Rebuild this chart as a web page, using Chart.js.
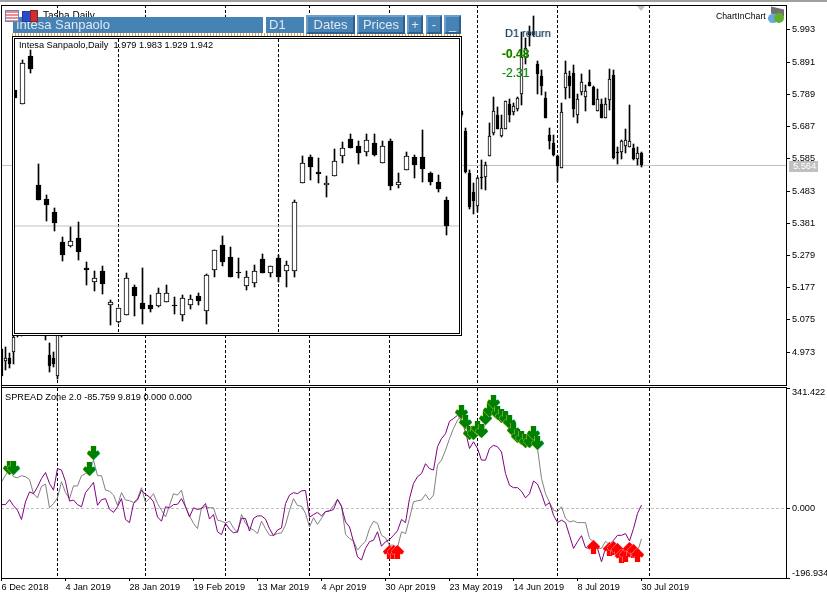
<!DOCTYPE html>
<html><head><meta charset="utf-8">
<script src="https://cdn.jsdelivr.net/npm/chart.js@4"></script>
<style>
html,body{margin:0;padding:0;background:#fff;width:827px;height:596px;overflow:hidden}
canvas{position:absolute;display:block}
.t{position:absolute;font:9.2px/12px "Liberation Sans",Arial,sans-serif;color:#000;white-space:pre}
.l{position:absolute;background:#000}
.bar{position:absolute;background:#4682B4;color:#dfe8f2;font:13px/16px "Liberation Sans",Arial,sans-serif;box-sizing:border-box;white-space:pre}
.btn{position:absolute;top:15px;height:19px;box-sizing:border-box;background:#4682B4;border:2px solid;border-color:#6c9fcc #2f5f8a #2f5f8a #6c9fcc;color:#dfe8f2;font:13px/15px "Liberation Sans",Arial,sans-serif;text-align:center}
</style></head><body>
<canvas id="main" width="827" height="386" style="left:0;top:0;width:827px;height:386px"></canvas>
<canvas id="spread" width="827" height="210" style="left:0;top:386px;width:827px;height:210px"></canvas>

<div class="l" style="left:0;top:0;width:827px;height:2px;background:#a0a0a0"></div>
<div class="l" style="left:0;top:2px;width:827px;height:3px;background:#fff"></div>
<div class="l" style="left:1px;top:5px;width:786px;height:1px"></div>
<div class="l" style="left:1px;top:5px;width:1px;height:573px"></div>
<div class="l" style="left:1px;top:385px;width:786px;height:1px"></div>
<div class="l" style="left:1px;top:387px;width:786px;height:1px"></div>
<div style="position:absolute;left:637px;top:6px;width:0;height:0;border-left:4px solid transparent;border-right:4px solid transparent;border-top:5px solid #c0c0c0"></div>

<div class="t" style="left:43px;top:10px;height:7px;overflow:hidden;font-size:10px">Tasha Daily</div>

<div style="position:absolute;left:12px;top:33px;width:449px;height:3px;background:repeating-linear-gradient(90deg,#e0a050 0 1px,#fff 1px 3px)"></div>
<div class="bar" style="left:13px;top:17px;width:250px;height:16px;padding-left:3px">Intesa Sanpaolo</div>
<div class="bar" style="left:266px;top:17px;width:38px;height:16px;padding-left:3px">D1</div>
<div class="btn" style="left:306px;width:49px">Dates</div>
<div class="btn" style="left:357px;width:48px">Prices</div>
<div class="btn" style="left:407px;width:16px">+</div>
<div class="btn" style="left:426px;width:16px">-</div>
<div class="btn" style="left:444px;width:17px">_</div>

<div style="position:absolute;left:5px;top:10px;width:12px;height:10px;background:repeating-linear-gradient(#e89090 0 2px,#fff 2px 3px);border:1px solid #7080c0"></div>
<div style="position:absolute;left:22px;top:11px;width:7px;height:9px;background:#2a4bd0;border:1px solid #223a90"></div>
<div style="position:absolute;left:30px;top:10px;width:6px;height:10px;background:#cc3030;border:1px solid #902020"></div>

<div style="position:absolute;left:12px;top:36px;width:448px;height:298px;border:1px solid #000;background:#fff"></div>
<div style="position:absolute;left:14px;top:38px;width:444px;height:294px;border:1px solid #000;background:#fff"></div>
<canvas id="inner" width="444" height="293" style="left:15px;top:39px;width:444px;height:293px"></canvas>
<div class="t" style="left:19px;top:39px">Intesa Sanpaolo,Daily  1.979 1.983 1.929 1.942</div>

<div class="t" style="left:505px;top:27px;font-size:11px;color:#14305c;text-shadow:-1px 0 0 rgba(240,170,80,.35),1px 0 0 rgba(80,190,240,.45)">D1 return</div>
<div class="t" style="left:502px;top:48px;font-size:12px;font-weight:bold;color:#008000;text-shadow:-1px 0 0 rgba(220,190,40,.5)">-0.48</div>
<div class="t" style="left:502px;top:67px;font-size:12px;color:#008000;text-shadow:-1px 0 0 rgba(220,190,40,.3),1px 0 0 rgba(60,220,220,.3)">-2.31</div>
<div class="t" style="left:716px;top:10px;font-size:8.7px">ChartInChart</div>
<div style="position:absolute;left:771px;top:8px;width:13px;height:7px;background:#707070;transform:skewY(12deg)"></div>
<div style="position:absolute;left:768px;top:14px;width:10px;height:9px;background:#6aa6e0;border-radius:5px"></div>
<div style="position:absolute;left:774px;top:13px;width:10px;height:10px;background:#60b030;border-radius:5px"></div>

<div style="position:absolute;left:789px;top:161px;width:29px;height:11px;background:#c0c0c0"></div>
<div class="t" style="left:793px;top:160px;color:#fff">5.564</div>
<div class="t" style="left:5px;top:391px">SPREAD Zone 2.0 -85.759 9.819 0.000 0.000</div>

<script>
// ---------- price pane ----------
const mainIndex = [0,1,2,3,4,5,11,12,13,14,15,
 115,116,117,118,119,120,121,122,123,124,125,126,127,128,129,130,131,132,133,134,135,136,137,
 138,139,140,141,142,143,144,145,146,147,148,149,150,151,152,153,154,155,156,157,158,159,160];
const mainOpen = [4.982,4.944,4.953,4.972,5.061,5.061,5.061,4.963,4.956,4.899,5.061,
 5.735,5.672,5.539,5.479,5.437,5.529,5.529,5.593,5.668,5.725,5.656,5.678,5.760,5.732,5.744,5.789,5.906,5.988,5.988,5.884,5.846,5.779,5.662,
 5.634,5.593,5.555,5.808,5.846,5.858,5.725,5.795,5.782,5.827,5.811,5.738,5.760,5.713,5.770,5.849,5.608,5.608,5.627,5.621,5.618,5.583,5.605];
const mainHigh = [4.982,4.988,4.969,5.029,5.077,5.077,5.077,5.001,4.972,5.061,5.077,
 5.735,5.684,5.551,5.507,5.529,5.580,5.574,5.697,5.782,5.748,5.725,5.767,5.773,5.763,5.782,5.985,5.966,6.007,6.036,5.896,5.865,5.795,5.684,
 5.659,5.596,5.763,5.896,5.862,5.881,5.789,5.855,5.820,5.865,5.814,5.805,5.773,5.779,5.868,5.865,5.624,5.646,5.678,5.757,5.631,5.624,5.608];
const mainLow = [4.896,4.915,4.922,4.934,5.020,5.023,5.010,4.909,4.925,4.887,5.020,
 5.719,5.539,5.425,5.409,5.418,5.488,5.485,5.593,5.662,5.678,5.653,5.678,5.703,5.725,5.735,5.754,5.884,5.941,5.973,5.789,5.786,5.713,5.615,
 5.593,5.513,5.555,5.773,5.779,5.719,5.700,5.786,5.735,5.817,5.757,5.735,5.713,5.713,5.741,5.586,5.570,5.583,5.605,5.621,5.580,5.567,5.558];
const mainClose = [4.896,4.956,4.934,5.020,5.045,5.045,5.045,4.928,4.934,5.045,5.045,
 5.725,5.542,5.434,5.450,5.523,5.523,5.567,5.656,5.735,5.681,5.684,5.767,5.725,5.751,5.779,5.906,5.937,5.976,5.976,5.855,5.814,5.713,5.643,
 5.596,5.561,5.732,5.858,5.814,5.744,5.773,5.827,5.801,5.817,5.757,5.773,5.713,5.760,5.839,5.589,5.602,5.640,5.646,5.643,5.583,5.605,5.564];
const priceTicks = [5.993,5.891,5.789,5.687,5.585,5.483,5.381,5.279,5.177,5.075,4.973];
const bidPrice = 5.564;
const periodSeparators = [14,36,56,77,97,119,139,162];

// ---------- chart-in-chart ----------
const innerOpen = [2.135,2.115,2.184,2.000,1.980,1.962,1.919,1.914,1.925,1.882,1.862,1.878,1.830,1.805,1.815,1.855,1.832,1.830,1.828,1.834,1.830,1.815,1.830,1.842,1.821,1.879,1.915,1.898,1.877,1.857,1.861,1.895,1.875,1.896,1.878,1.878,2.003,2.040,2.019,2.000,2.013,2.042,2.066,2.056,2.047,2.060,2.032,2.063,2.000,2.022,2.040,2.040,2.017,2.005,1.979];
const innerHigh = [2.135,2.178,2.192,2.030,1.986,1.968,1.926,1.941,1.948,1.891,1.878,1.885,1.837,1.825,1.875,1.858,1.882,1.844,1.854,1.858,1.841,1.844,1.844,1.847,1.874,1.908,1.928,1.912,1.896,1.878,1.887,1.902,1.885,1.901,1.892,1.979,2.042,2.043,2.039,2.013,2.051,2.061,2.073,2.063,2.073,2.073,2.063,2.066,2.017,2.047,2.043,2.079,2.019,2.015,1.983];
const innerLow = [2.124,2.115,2.160,1.979,1.949,1.935,1.892,1.912,1.894,1.858,1.850,1.845,1.801,1.804,1.815,1.814,1.803,1.820,1.827,1.834,1.817,1.807,1.824,1.830,1.803,1.869,1.885,1.869,1.868,1.851,1.855,1.875,1.869,1.862,1.855,1.869,2.003,2.007,2.003,1.983,2.013,2.032,2.053,2.030,2.042,2.042,2.032,1.993,1.996,2.022,2.010,2.005,2.000,1.990,1.929];
const innerClose = [2.124,2.174,2.165,1.979,1.972,1.946,1.901,1.921,1.905,1.879,1.868,1.860,1.834,1.825,1.868,1.842,1.824,1.824,1.847,1.847,1.828,1.840,1.838,1.835,1.872,1.908,1.891,1.869,1.875,1.869,1.878,1.875,1.885,1.869,1.887,1.976,2.032,2.026,2.016,2.003,2.034,2.053,2.053,2.046,2.064,2.043,2.056,1.999,2.005,2.042,2.029,2.023,2.005,1.995,1.942];
const innerLast = 1.942;
const innerSeparators = [13,33];

// ---------- SPREAD Zone pane ----------
const spreadPurple = [11,11,25,8,-5,-31,19,47,42,61,85,102,71,52,113,109,76,21,24,11,5,45,59,74,9,25,28,-2,-11,5,28,-31,-40,14,24,52,40,33,19,-24,-36,5,2,11,12,28,5,-24,2,-3,0,14,-30,-17,-66,-74,-42,-59,-69,-66,-28,-28,-64,-28,-21,-21,-30,-57,-77,-61,-55,14,38,45,42,50,51,-25,-17,-11,
 -21,-9,-7,-3,26,5,-38,-52,-94,-137,-146,-113,-94,-90,-66,-107,-94,-88,-76,-63,-31,-40,28,71,90,99,127,113,109,175,198,212,247,255,264,250,217,170,189,170,137,137,170,179,175,160,99,66,59,59,49,30,42,78,69,42,8,17,-19,-40,-33,-40,-76,-113,-94,-77,-111,-113,-104,-113,-151,-113,-102,-90,-76,-76,-71,-92,-57,-14,9.819];
const spreadGray = [76,94,113,90,87,93,90,82,42,30,63,69,2,14,30,76,45,28,64,64,93,99,102,137,93,93,52,49,38,9,45,24,22,17,28,59,17,28,42,14,-5,-24,9,42,38,52,5,-21,-42,-57,2,5,2,2,-33,-36,-41,-36,-55,-68,-17,-42,-55,-61,-71,-36,-57,-76,-76,-71,-69,-47,-5,28,8,7,-14,-52,-26,-45,
 -28,-9,-6,8,26,8,-73,-85,-92,-118,-104,-93,-57,-36,-42,-76,-83,-104,-104,-110,-66,-71,-28,19,22,24,40,24,38,123,137,165,198,227,250,264,236,203,203,208,203,241,255,274,260,250,241,231,217,203,189,184,194,189,170,85,42,17,-5,-9,5,-28,-38,-35,-40,-40,-40,-85,-94,-113,-113,-93,-104,-94,-113,-132,-123,-113,-127,-123,-85.759];
const sellIndex = [2,3,22,23,115,116,117,118,119,120,121,122,123,124,125,126,127,128,129,130,131,132,133,134];
const sellLevel = [113,113,110,155,272,245,212,212,227,217,255,278,300,269,262,255,244,222,203,198,191,191,212,184];
const buyIndex = [97,98,99,148,152,153,154,155,156,157,158,159];
const buyLevel = [-126,-126,-126,-111,-116,-113,-118,-137,-132,-115,-123,-134];
const spreadTicks = [341.422,0,-196.934];
const dateTickIndex = [0,16,32,48,64,80,96,112,128,144,160];
const dateTickLabels = ['6 Dec 2018','4 Jan 2019','28 Jan 2019','19 Feb 2019','13 Mar 2019','4 Apr 2019','30 Apr 2019','23 May 2019','14 Jun 2019','8 Jul 2019','30 Jul 2019'];

// ---------- look ----------
const FONT = {family:'"Liberation Sans",Arial,sans-serif',size:9.2};
const X_MIN=-0.125, X_MAX=196.125;

function candleSets(idx,o,h,l,c,bodyW){
  const wicks = idx.map((x,i)=>({x,y:[l[i],h[i]]}));
  const bodies = idx.map((x,i)=>({x,y:[o[i],c[i]],up:c[i]>=o[i]}));
  return [
   {type:'bar',data:bodies,grouped:false,barThickness:bodyW,order:2,borderWidth:1,borderSkipped:false,borderColor:'#000',
    backgroundColor:ctx=>ctx.raw&&ctx.raw.up?'#fff':'#000'},
   {type:'bar',data:wicks,grouped:false,barThickness:1,order:3,borderWidth:0,backgroundColor:'#000'}
  ];
}
function sprite(color,left,right,flip){
  const c=document.createElement('canvas');c.width=13;c.height=15;
  const g=c.getContext('2d');
  const P=[[4,0],[9,0],[9,5.5],[11,4.5],[13,7.5],[6.5,14],[0,7.5],[2,4.5],[4,5.5]];
  const path=dx=>{g.beginPath();P.forEach((p,i)=>{const y=flip?14-p[1]:p[1];i?g.lineTo(p[0]+dx,y):g.moveTo(p[0]+dx,y)});g.closePath();g.fill()};
  g.fillStyle=left;path(-0.5);g.fillStyle=right;path(0.5);g.fillStyle=color;path(0);
  return c;
}
const snap={id:'snap',afterDatasetsUpdate(chart){
  chart.getSortedVisibleDatasetMetas().forEach(m=>{
    m.data.forEach(el=>{
      if(m.type==='bar'){
        el.x=Math.floor(el.x)+0.5;
        const a=Math.round(Math.min(el.y,el.base)),b=Math.round(Math.max(el.y,el.base));
        el.y=a;el.base=Math.max(b,a+1);
      }else if(m.type==='scatter'){
        el.x=Math.floor(el.x)+0.5;el.y=Math.floor(el.y)+0.5;
      }
    });
  });
}};
const noPad=s=>{s.paddingLeft=s.paddingRight=s.paddingTop=s.paddingBottom=0};
const zero=s=>{s.height=0;noPad(s)};
const sepAxis=(list,min,max)=>({type:'linear',min,max,position:'bottom',offset:false,
  afterBuildTicks:s=>{s.ticks=list.map(value=>({value}))},
  afterFit:zero,
  ticks:{display:false,autoSkip:false},
  grid:{color:'#000',lineWidth:1,drawTicks:false,tickLength:0},
  border:{display:false,dash:[3,2]}});
const base={responsive:false,animation:false,events:[],plugins:{legend:{display:false},tooltip:{enabled:false}}};

// main price chart
new Chart(document.getElementById('main'),{
 data:{datasets:[
  ...candleSets(mainIndex,mainOpen,mainHigh,mainLow,mainClose,3),
  {type:'line',data:[{x:X_MIN,y:bidPrice},{x:X_MAX,y:bidPrice}],borderColor:'#c0c0c0',borderWidth:1,pointRadius:0,order:4}
 ]},
 options:{...base,layout:{autoPadding:false,padding:{left:1,top:5,bottom:1}},
  scales:{
   x:{type:'linear',min:X_MIN,max:X_MAX,offset:false,afterFit:zero,ticks:{display:false},grid:{display:false,drawTicks:false},border:{display:false}},
   s:sepAxis(periodSeparators,X_MIN,X_MAX),
   y:{type:'linear',position:'right',min:4.869,max:6.072,
     afterBuildTicks:s=>{s.ticks=priceTicks.map(value=>({value}))},
     afterFit:s=>{s.width=41;noPad(s)},
     ticks:{autoSkip:false,color:'#000',font:FONT,padding:2,callback:v=>v.toFixed(3)},
     grid:{drawOnChartArea:false,tickLength:4,tickColor:'#000'},
     border:{color:'#000'}}
  }},
 plugins:[snap]
});

// inner chart
const innerIndex=innerOpen.map((_,i)=>i);
const IN_MIN=0.0625,IN_MAX=55.5625;
new Chart(document.getElementById('inner'),{
 data:{datasets:[
  ...candleSets(innerIndex,innerOpen,innerHigh,innerLow,innerClose,5),
  {type:'line',data:[{x:IN_MIN,y:innerLast},{x:IN_MAX,y:innerLast}],borderColor:'#c0c0c0',borderWidth:1,pointRadius:0,order:4}
 ]},
 options:{...base,layout:{autoPadding:false},
  scales:{
   x:{type:'linear',min:IN_MIN,max:IN_MAX,offset:false,afterFit:zero,ticks:{display:false},grid:{display:false,drawTicks:false},border:{display:false}},
   s:sepAxis(innerSeparators,IN_MIN,IN_MAX),
   y:{type:'linear',min:1.7912,max:2.208,afterFit:s=>{s.width=0;noPad(s)},ticks:{display:false},grid:{display:false,drawTicks:false},border:{display:false}}
  }},
 plugins:[snap]
});

// spread chart
const shiftEnds={id:'shiftEnds',beforeDraw(chart){
  const items=chart.scales.y.getLabelItems(chart.chartArea);
  if(items.length===3){items[0].options.translation[1]+=4;items[2].options.translation[1]-=5;}
}};
new Chart(document.getElementById('spread'),{
 data:{datasets:[
  {type:'scatter',data:sellIndex.map((x,i)=>({x,y:sellLevel[i]})),pointStyle:sprite('#008000','#e8c820','#60e8e8',false),pointRadius:7,order:0},
  {type:'scatter',data:buyIndex.map((x,i)=>({x,y:buyLevel[i]})),pointStyle:sprite('#ff0000','#ffb0b0','#ffb0b0',true),pointRadius:7,order:0},
  {type:'line',data:spreadPurple.map((y,x)=>({x,y})),borderColor:'#800080',borderWidth:1,pointRadius:0,tension:0,order:1},
  {type:'line',data:spreadGray.map((y,x)=>({x,y})),borderColor:'#808080',borderWidth:1,pointRadius:0,tension:0,order:2}
 ]},
 options:{...base,layout:{autoPadding:false,padding:{left:1,top:2}},
  scales:{
   x:{type:'linear',min:X_MIN,max:X_MAX,offset:false,
     afterBuildTicks:s=>{s.ticks=dateTickIndex.map(value=>({value}))},
     afterFit:s=>{s.height=18;noPad(s)},
     ticks:{autoSkip:false,maxRotation:0,align:'start',color:'#000',font:FONT,padding:1,
       callback:v=>dateTickLabels[dateTickIndex.indexOf(v)]},
     grid:{drawOnChartArea:false,tickLength:3,tickColor:'#000'},
     border:{color:'#000'}},
   s:sepAxis(periodSeparators,X_MIN,X_MAX),
   y:{type:'linear',position:'right',min:-196.934,max:341.422,
     afterBuildTicks:s=>{s.ticks=spreadTicks.map(value=>({value}))},
     afterFit:s=>{s.width=41;noPad(s)},
     ticks:{autoSkip:false,color:'#000',font:FONT,padding:2,callback:v=>v.toFixed(3)},
     grid:{color:c=>c.tick&&c.tick.value===0?'#c0c0c0':'rgba(0,0,0,0)',tickLength:4,tickColor:'#000'},
     border:{color:'#000',dash:[3,2]}}
  }},
 plugins:[snap,shiftEnds]
});
</script>
</body></html>
